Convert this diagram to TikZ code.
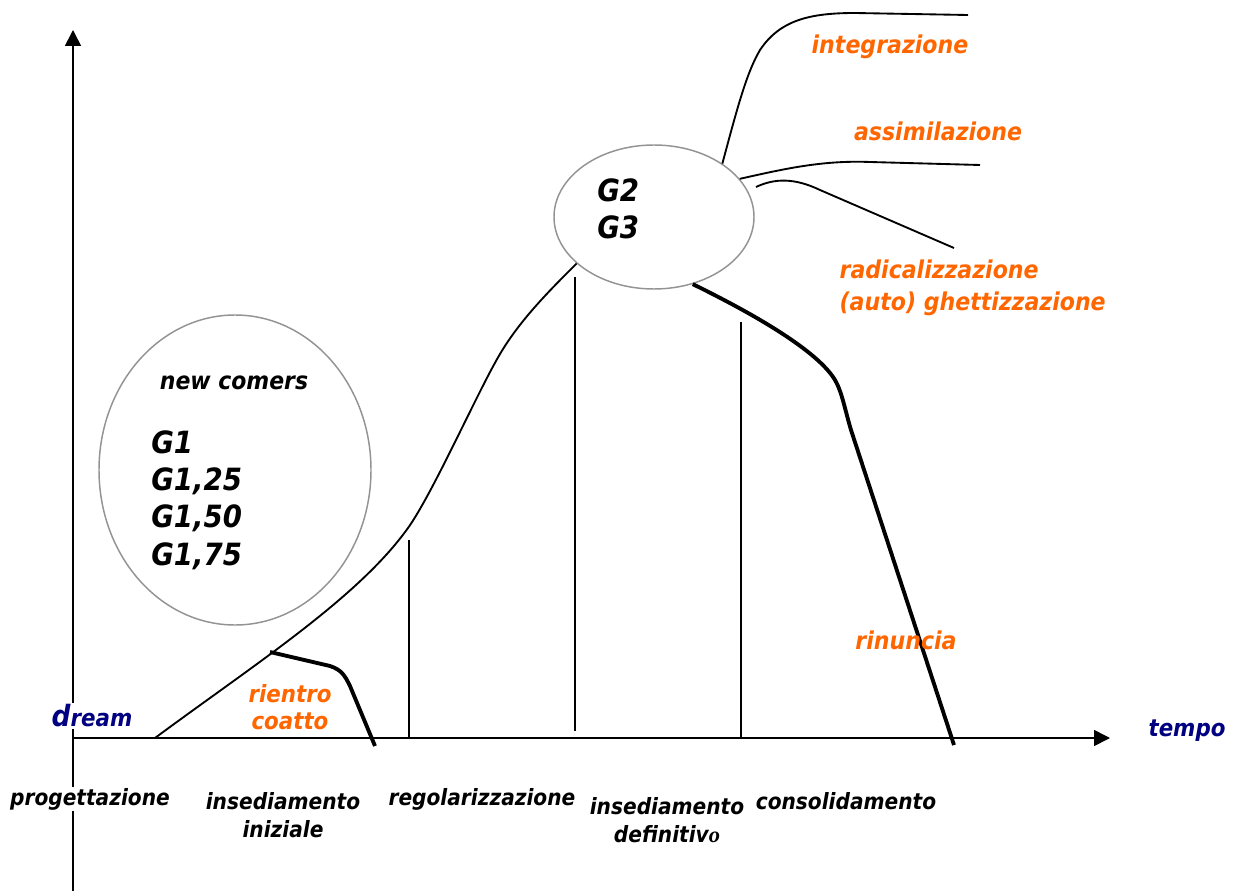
\documentclass[tikz,border=0pt]{standalone}
\usepackage{fontspec}
\setmainfont{DejaVu Sans Condensed}
\newfontfamily\serifo{Liberation Serif}
\usepackage{tikz}
\usetikzlibrary{arrows.meta,positioning,shapes.geometric}

\definecolor{arancio}{HTML}{FF6600}
\definecolor{blunotte}{HTML}{000080}

\tikzset{
  asse/.style={line width=1.2pt,-{Triangle[length=12pt,width=12pt]}},
  fase/.style={font=\bfseries\itshape\fontsize{16.8}{21}\selectfont,align=center,fill=white,inner sep=1pt},
  esito/.style={font=\bfseries\itshape\fontsize{18.4}{24}\selectfont,text=arancio,align=left,inner sep=1pt},
  gruppo/.style={draw=gray!85,line width=1.1pt,ellipse},
  gen/.style={font=\bfseries\itshape\fontsize{23}{28}\selectfont,align=left,inner sep=0pt},
  linea/.style={line width=1.4pt},
  grossa/.style={line width=2.9pt},
}

\begin{document}
\begin{tikzpicture}[x=0.75pt,y=-0.75pt]
\useasboundingbox (0,0) rectangle (1242,891);

% assi
\coordinate (O) at (73,738);
\coordinate (ytop) at (73,30);
\coordinate (ybot) at (73,891);
\coordinate (xend) at (1110,738);
\draw[line width=1.2pt] (ybot) -- (O);
\draw[asse] (O) -- (ytop);
\draw[asse] (O) -- (xend);

\node[font=\bfseries\itshape\fontsize{17.8}{18}\selectfont,text=blunotte] (tempo) at (1187,731) {tempo};
\node[font=\bfseries\itshape\fontsize{17.8}{18}\selectfont,text=blunotte,fill=white,inner sep=1pt] (dream) at (92,716) {{\fontsize{22}{18}\selectfont d}ream};

% fasi
\node[fase] (prog) at (90,799) {progettazione};
\node[fase] (ins1) at (283,815) {insediamento\\iniziale};
\node[fase] (reg) at (482,799) {regolarizzazione};
\node[fase] (ins2) at (667,820) {insediamento\\definitiv{\serifo\itshape o}};
\node[fase] (cons) at (846,801) {consolidamento};

% gruppi
\node[gruppo,minimum width=272*0.75pt,minimum height=310*0.75pt] (nc) at (235,470) {};
\node[gruppo,minimum width=200*0.75pt,minimum height=144*0.75pt] (g23) at (654,217) {};
\node[gen,anchor=west] (g1) at (151,500) {G1\\G1,25\\G1,50\\G1,75};
\node[font=\bfseries\itshape\fontsize{18.3}{17}\selectfont] (newc) at (234,383) {new comers};
\node[gen,anchor=west] (g2) at (597,209) {G2\\G3};

% verticali
\coordinate (v1a) at (409,540); \coordinate (v1b) at (409,738);
\coordinate (v2a) at (575,277); \coordinate (v2b) at (575,731);
\coordinate (v3a) at (741,322); \coordinate (v3b) at (741,738);
\draw[line width=1.1pt] (v1a) -- (v1b);
\draw[line width=1.1pt] (v2a) -- (v2b);
\draw[line width=1.1pt] (v3a) -- (v3b);

% curva principale
\coordinate (c0) at (155,738);
\draw[linea] (c0) .. controls (255,664) and (358,598) .. (408,528)
  .. controls (433,493) and (478,391) .. (500,354)
  .. controls (520,320) and (550,290) .. (g23.211);

% rientro coatto
\coordinate (r0) at (270,652);
\coordinate (r1) at (375,746);
\draw[grossa] (r0) -- (330,666) .. controls (342,670) and (345,676) .. (350,686) -- (r1);

% esiti
\coordinate (e1) at (968,15);
\coordinate (e2) at (980,165);
\coordinate (e3) at (954,248);
\coordinate (e4) at (954,745);
\draw[linea] (g23.38) .. controls (738,105) and (747,72) .. (760,50)
  .. controls (780,20) and (810,13) .. (855,13) -- (e1);
\draw[linea] (g23.24) .. controls (780,170) and (820,160) .. (870,162) -- (e2);
\draw[linea] (756,187) .. controls (775,178) and (795,178) .. (820,190) -- (e3);
\draw[grossa] (g23.300) .. controls (770,322) and (820,355) .. (835,380)
  .. controls (842,392) and (845,410) .. (851,430) -- (e4);

\node[esito] (integ) at (890,47) {integrazione};
\node[esito] (assim) at (938,131) {assimilazione};
\node[esito,anchor=west] (radic) at (838,288) {radicalizzazione\\(auto) ghettizzazione};
\node[esito] (rinun) at (906,640) {rinuncia};
\node[esito,align=center,font=\bfseries\itshape\fontsize{17.8}{20}\selectfont] (rientro) at (290,707) {rientro\\coatto};
\end{tikzpicture}
\end{document}
